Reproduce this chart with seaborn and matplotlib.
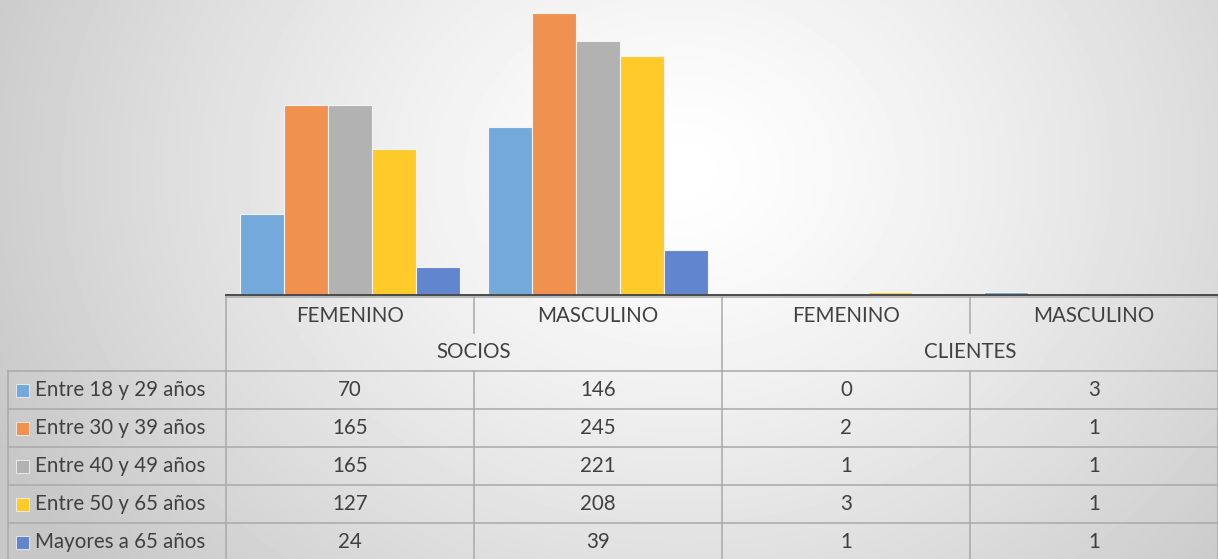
import numpy as np
import pandas as pd
import matplotlib.pyplot as plt
import seaborn as sns

grupos = ['SOCIOS', 'CLIENTES']
generos = ['FEMENINO', 'MASCULINO']
edades = ['Entre 18 y 29 años', 'Entre 30 y 39 años', 'Entre 40 y 49 años',
          'Entre 50 y 65 años', 'Mayores a 65 años']
e18_29 = [70, 146, 0, 3]
e30_39 = [165, 245, 2, 1]
e40_49 = [165, 221, 1, 1]
e50_65 = [127, 208, 3, 1]
may_65 = [24, 39, 1, 1]

cols = ['#74a9db', '#f09150', '#b2b2b2', '#ffca2a', '#6286cd']

### long table for seaborn
cats = [f'{g} {s}' for g in grupos for s in generos]
series = [e18_29, e30_39, e40_49, e50_65, may_65]
df = pd.DataFrame([(c, e, v) for e, vals in zip(edades, series) for c, v in zip(cats, vals)],
                  columns=['cat', 'edad', 'valor'])

W, H = 1218, 559
fig = plt.figure(figsize=(W / 100, H / 100), dpi=100)

### radial grey background like the excel chart style
bg = fig.add_axes([0, 0, 1, 1], zorder=0)
yy, xx = np.mgrid[0:H, 0:W]
r = np.sqrt(((xx - 680) / 760) ** 2 + ((yy - 170) / 620) ** 2)
shade = 1 - 0.22 * np.clip(r, 0, 1) ** 1.3
bg.imshow(shade, cmap='gray', vmin=0, vmax=1, extent=(0, W, H, 0), aspect='auto')
bg.set_xlim(0, W)
bg.set_ylim(H, 0)
bg.axis('off')

### bars
x0, base = 226, 295
ax = fig.add_axes([x0 / W, (H - base) / H, (W - x0) / W, base / H], zorder=2)
ax.patch.set_alpha(0)
sns.barplot(data=df, x='cat', y='valor', hue='edad', order=cats, hue_order=edades,
            palette=cols, saturation=1, width=0.887, edgecolor='#f4f4f4', linewidth=0.8,
            legend=False, ax=ax)
ax.set_xlim(-0.5, 3.5)
ax.set_ylim(0, 256.3)
ax.set_xticks([])
ax.set_yticks([])
ax.set_xlabel('')
ax.set_ylabel('')
for s in ['top', 'left', 'right']:
    ax.spines[s].set_visible(False)
ax.spines['bottom'].set_color('#4a4a4a')
ax.spines['bottom'].set_linewidth(1.4)

### data table underneath
tab = fig.add_axes([0, 0, 1, 1], zorder=3)
tab.patch.set_alpha(0)
tab.set_xlim(0, W)
tab.set_ylim(H, 0)
tab.axis('off')

lc, lw = '#a9a9a9', 1.1
txt = dict(color='#404040', fontsize=14.8, family=['Lato', 'DejaVu Sans'], va='center')
cw = (W - x0) / 4
vx = [x0 + cw * i for i in range(5)]
row_top, h1, h2, rh = 297, 333, 371, 38.1

# header lines
tab.plot([x0, W], [row_top, row_top], color=lc, lw=lw)
for i, x in enumerate(vx):
    if i % 2 == 0:
        tab.plot([x, x], [row_top, H], color=lc, lw=lw)
    else:
        tab.plot([x, x], [row_top, h1], color=lc, lw=lw)
        tab.plot([x, x], [h2, H], color=lc, lw=lw)
tab.plot([8, 8], [h2, H], color=lc, lw=lw)
for k in range(len(edades) + 1):
    y = h2 + rh * k
    tab.plot([8, W], [y, y], color=lc, lw=lw)

# header text
for i, c in enumerate(cats):
    tab.text(x0 + cw * (i + 0.5), (row_top + h1) / 2 + 1, c.split(' ')[1], ha='center', **txt)
for j, g in enumerate(grupos):
    tab.text(x0 + cw * (2 * j + 1), (h1 + h2) / 2, g, ha='center', **txt)

# rows
for k, (e, vals) in enumerate(zip(edades, series)):
    yc = h2 + rh * (k + 0.5)
    tab.add_patch(plt.Rectangle((16, yc - 6.5), 13, 13, facecolor=cols[k], edgecolor='#f0f0f0', lw=0.6))
    tab.text(35, yc, e, ha='left', **txt)
    for i, v in enumerate(vals):
        tab.text(x0 + cw * (i + 0.5), yc, str(v), ha='center', **txt)

plt.savefig('out.png', dpi=100)
